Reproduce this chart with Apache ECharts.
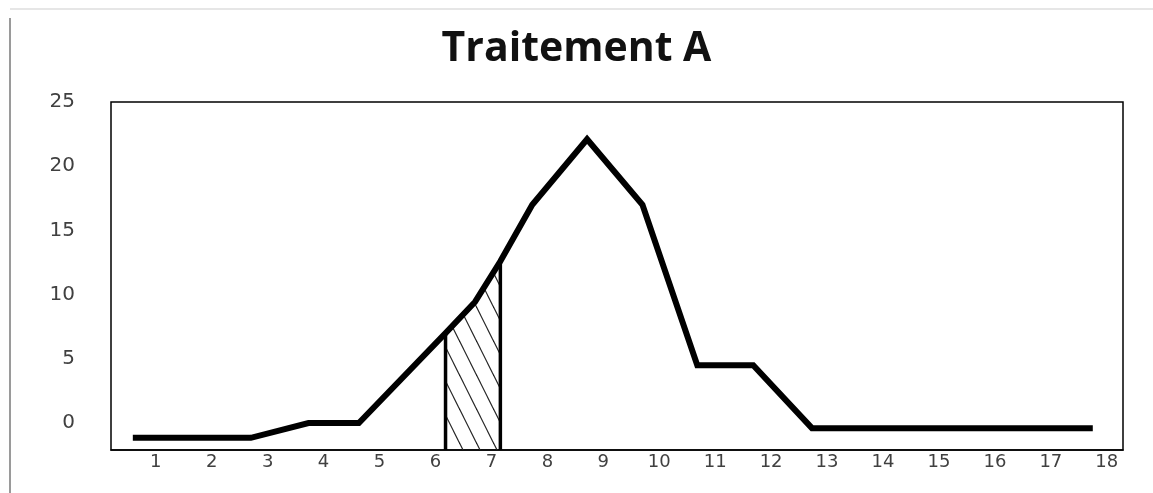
<!DOCTYPE html>
<html>
<head>
<meta charset="utf-8">
<script src="https://cdn.jsdelivr.net/npm/echarts@6/dist/echarts.min.js"></script>
<style>
html,body{margin:0;padding:0;background:#fff;}
#chart{width:1153px;height:493px;}
</style>
</head>
<body>
<div id="chart"></div>
<script>
// ---- data ----
const xTickLabels = [1,2,3,4,5,6,7,8,9,10,11,12,13,14,15,16,17,18];
const yTickLabels = [0,5,10,15,20,25];
const curveX = [0.59, 2.70, 3.73, 4.63, 6.18, 6.71, 7.16, 7.73, 8.71, 9.70, 10.68, 11.68, 12.73, 17.75];
const curveY = [-1.15, -1.15, 0, 0, 7.0, 9.45, 12.6, 17.0, 22.1, 17.0, 4.5, 4.5, -0.4, -0.4];
const hatchX = [6.18, 6.18, 6.71, 7.16, 7.16];
const hatchY = [-2.1, 7.0, 9.45, 12.6, -2.1];
const xMin = 0.2, xMax = 18.29;
const yMin = -2.1, yMax = 25;

// hatch pattern
const pat = document.createElement('canvas');
pat.width = 17; pat.height = 34;
const g = pat.getContext('2d');
g.strokeStyle = '#222';
g.lineWidth = 1.2;
[[-17,0],[0,0],[17,0]].forEach(function(o){
  g.beginPath();
  g.moveTo(o[0]-2, o[1]-4);
  g.lineTo(o[0]+19, o[1]+38);
  g.stroke();
});

const chart = echarts.init(document.getElementById('chart'));
const zip = (a,b) => a.map((v,i)=>[v,b[i]]);
chart.setOption({
  backgroundColor: '#fff',
  animation: false,
  title: {
    text: 'Traitement A',
    left: 'center',
    top: 24,
    textStyle: {fontFamily: 'Open Sans', fontWeight: 'bold', fontSize: 41, color: '#111'}
  },
  grid: {left: 111, right: 30, top: 102, bottom: 43, show: true, borderColor: '#000', borderWidth: 1.5, backgroundColor: 'transparent'},
  xAxis: {
    type: 'value', min: xMin, max: xMax,
    splitLine: {show: false},
    axisTick: {show: false},
    axisLine: {show: true, onZero: false, lineStyle: {color: '#000', width: 1.5}},
    axisLabel: {customValues: xTickLabels, color: '#404040', fontSize: 18, fontFamily: 'DejaVu Sans', margin: 3, showMinLabel: true, showMaxLabel: true}
  },
  yAxis: {
    type: 'value', min: yMin, max: yMax,
    splitLine: {show: false},
    axisTick: {show: false},
    axisLine: {show: false},
    axisLabel: {customValues: yTickLabels, color: '#404040', fontSize: 20, fontFamily: 'DejaVu Sans', margin: 36}
  },
  graphic: [
    {type: 'line', shape: {x1: 10, y1: 9, x2: 1153, y2: 9}, style: {stroke: '#e6e6e6', lineWidth: 2}},
    {type: 'line', shape: {x1: 10, y1: 18, x2: 10, y2: 493}, style: {stroke: '#9a9a9a', lineWidth: 2}}
  ],
  series: [
    {
      type: 'line', data: zip(hatchX, hatchY), symbol: 'none',
      lineStyle: {color: '#000', width: 3.5},
      areaStyle: {color: {image: pat, repeat: 'repeat'}, opacity: 1, origin: 'start'},
      z: 2
    },
    {
      type: 'line', data: zip(curveX, curveY), symbol: 'none',
      lineStyle: {color: '#000', width: 6, join: 'miter'},
      z: 3
    }
  ]
});
</script>
</body>
</html>
